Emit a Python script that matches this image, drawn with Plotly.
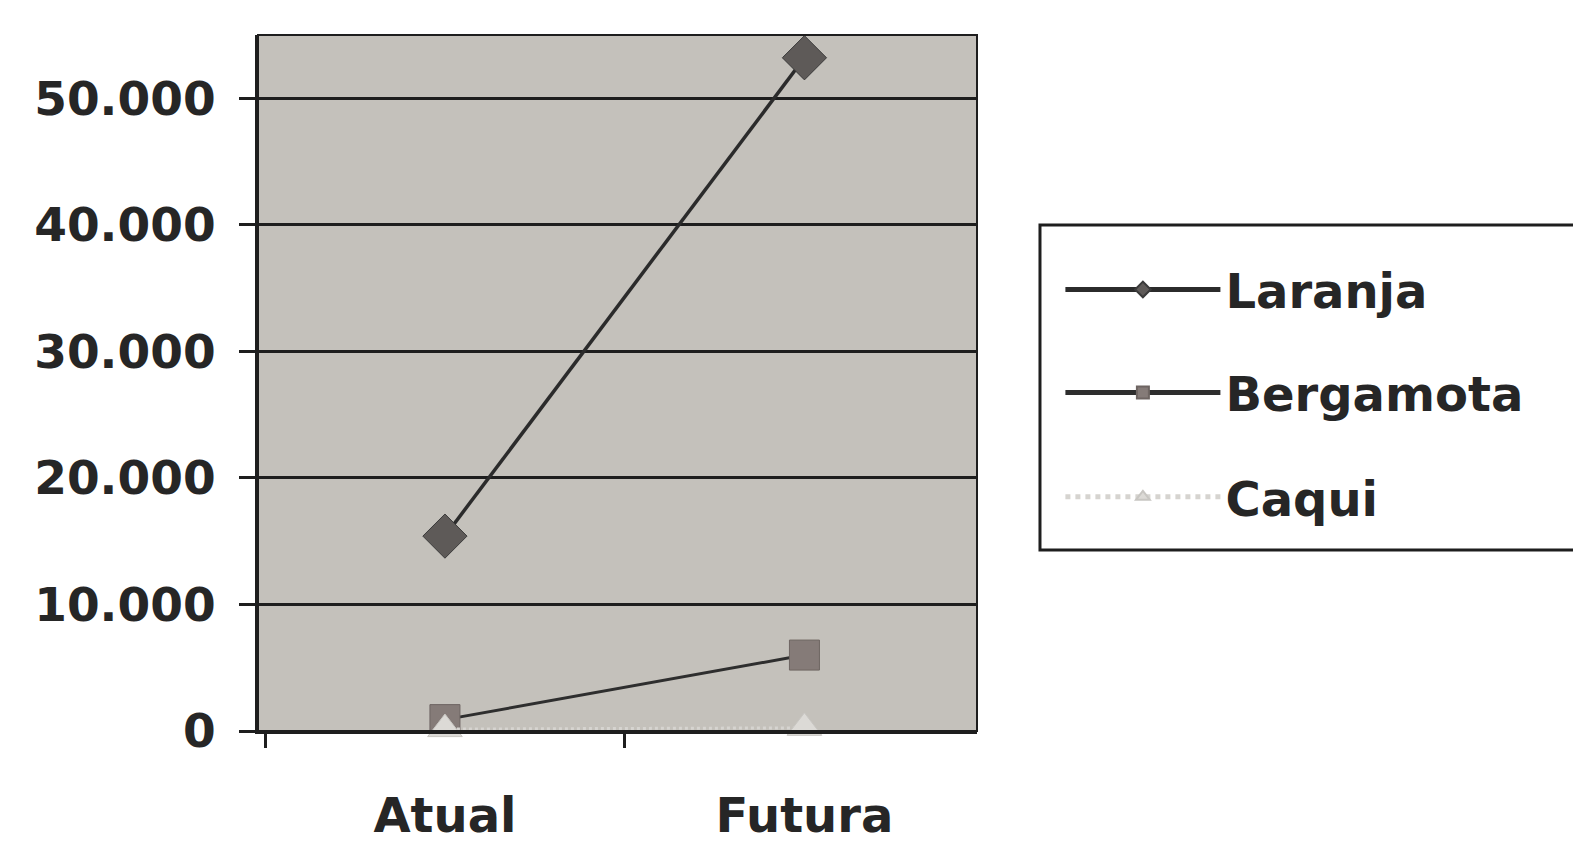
import plotly.graph_objects as go

# Categories and series values
categorias = ["Atual", "Futura"]
laranja = [15400, 53200]
bergamota = [900, 6000]
caqui = [150, 250]
y_ticks = [0, 10000, 20000, 30000, 40000, 50000]

FONT = "DejaVu Sans, Liberation Sans, Arial, sans-serif"
INK = "#262626"

fig = go.Figure()

fig.add_trace(go.Scatter(
    x=categorias, y=laranja, name="Laranja", mode="lines+markers",
    line=dict(color="#2b2b2b", width=3.5),
    marker=dict(symbol="diamond", size=34, color="#5e5a58",
                line=dict(color="#3a3a3a", width=1)),
    cliponaxis=False, legend="legend",
))
fig.add_trace(go.Scatter(
    x=categorias, y=bergamota, name="Bergamota", mode="lines+markers",
    line=dict(color="#2e2e2e", width=3),
    marker=dict(symbol="square", size=30, color="#857b78",
                line=dict(color="#6e6562", width=1)),
    cliponaxis=False, legend="legend2",
))
fig.add_trace(go.Scatter(
    x=categorias, y=caqui, name="Caqui", mode="lines+markers",
    line=dict(color="#d6d4d0", width=3, dash="dot"),
    marker=dict(symbol="triangle-up", size=30, color="#dcdad6",
                line=dict(color="#c8c6c2", width=1)),
    cliponaxis=False, legend="legend3",
))

legend_common = dict(
    xanchor="left", yanchor="middle",
    bgcolor="rgba(0,0,0,0)", borderwidth=0,
    font=dict(size=48, family=FONT, color=INK, weight="bold"),
    itemwidth=155,
    itemsizing="constant",
)

fig.update_layout(
    width=1573, height=845,
    margin=dict(l=258, r=596, t=35, b=114),
    paper_bgcolor="white",
    plot_bgcolor="#c4c1bb",
    separators=",.",
    font=dict(family=FONT, color=INK),
    showlegend=True,
    legend=dict(x=1.116, y=0.634, **legend_common),
    legend2=dict(x=1.116, y=0.486, **legend_common),
    legend3=dict(x=1.116, y=0.336, **legend_common),
    xaxis=dict(
        range=[-0.52, 1.48],
        automargin=False,
        showgrid=False,
        showline=True, linecolor="#1e1e1e", linewidth=3,
        tickson="boundaries", ticks="outside", ticklen=14, tickwidth=3,
        tickcolor="#1e1e1e",
        tickfont=dict(size=48, family=FONT, color=INK, weight="bold"),
        ticklabelstandoff=40,
        zeroline=False,
    ),
    yaxis=dict(
        range=[0, 55000],
        automargin=False,
        tickvals=y_ticks,
        tickformat=",d",
        showgrid=True, gridcolor="#1e1e1e", gridwidth=3,
        showline=True, linecolor="#1e1e1e", linewidth=3,
        ticks="outside", ticklen=16, tickwidth=3, tickcolor="#1e1e1e",
        tickfont=dict(size=47, family=FONT, color=INK, weight="bold"),
        ticklabelstandoff=14,
        zeroline=False,
    ),
)

# Frame around the plotting area
fig.add_shape(type="rect", xref="paper", yref="paper", x0=0, y0=0, x1=1, y1=1,
              line=dict(color="#1e1e1e", width=2), layer="above")

# Box enclosing the three legend rows
fig.add_shape(type="rect", xref="paper", yref="paper",
              x0=1.0876, y0=0.26, x1=1.84, y1=0.727,
              line=dict(color="#1e1e1e", width=3), fillcolor="white", layer="below")

fig.write_html("out.html")
